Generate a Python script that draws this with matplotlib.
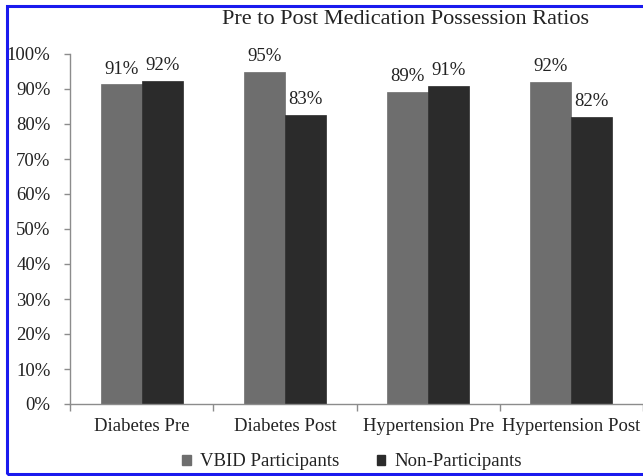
import numpy as np
import matplotlib
matplotlib.use('Agg')
import matplotlib.pyplot as plt
from matplotlib.patches import Rectangle, Patch

# data
categories = ['Diabetes Pre', 'Diabetes Post', 'Hypertension Pre', 'Hypertension Post']
vbid = [91.3, 94.9, 89.2, 92.0]            # VBID Participants (%)
non_part = [92.4, 82.6, 90.9, 81.9]        # Non-Participants (%)
y_ticks = [0, 10, 20, 30, 40, 50, 60, 70, 80, 90, 100]
series_names = ['VBID Participants', 'Non-Participants']

plt.rcParams['font.family'] = ['Liberation Serif', 'DejaVu Serif']
text_col = '#222222'
col_vbid = '#6e6e6e'
col_non = '#2b2b2b'
axis_col = '#8c8c8c'

fig = plt.figure(figsize=(6.43, 4.76), dpi=100)
ax = fig.add_axes([70 / 643, 72 / 476, 1 - 70 / 643, 350 / 476])

x = np.arange(len(categories))
w = 0.286
b1 = ax.bar(x - w / 2, vbid, w, color=col_vbid, edgecolor=col_vbid, linewidth=0.5)
b2 = ax.bar(x + w / 2, non_part, w, color=col_non, edgecolor=col_non, linewidth=0.5)

# value labels above each bar
for bars, vals in ((b1, vbid), (b2, non_part)):
    for rect, v in zip(bars, vals):
        ax.annotate('%d%%' % round(v), (rect.get_x() + rect.get_width() / 2, v),
                    xytext=(0, 5), textcoords='offset points',
                    ha='center', va='bottom', fontsize=13.5, color=text_col)

ax.set_xlim(-0.5, 3.5)
ax.set_ylim(0, 100)
ax.set_yticks(y_ticks)
ax.set_yticklabels(['%d%%' % t for t in y_ticks])
ax.tick_params(axis='y', length=4, width=1, color=axis_col, pad=10,
               labelsize=13.5, labelcolor=text_col)

# category labels centered, tick marks between categories
ax.set_xticks(x)
ax.set_xticklabels(categories)
ax.tick_params(axis='x', which='major', length=0, pad=10, labelsize=13.5, labelcolor=text_col)
ax.set_xticks(np.arange(-0.5, 4.0, 1.0), minor=True)
ax.tick_params(axis='x', which='minor', length=5, width=1, color=axis_col, direction='out')

for s in ('top', 'right'):
    ax.spines[s].set_visible(False)
for s in ('left', 'bottom'):
    ax.spines[s].set_color(axis_col)
    ax.spines[s].set_linewidth(1)

fig.text(406 / 643, 1 - 20 / 476, 'Pre to Post Medication Possession Ratios',
         ha='center', va='center', fontsize=16, color=text_col)

handles = [Patch(color=col_vbid), Patch(color=col_non)]
fig.legend(handles, series_names, loc='center', bbox_to_anchor=(352 / 643, 1 - 462 / 476),
           ncol=2, frameon=False, fontsize=13.5, handlelength=0.45, handleheight=0.45,
           handletextpad=0.5, columnspacing=2.0, labelcolor=text_col)

# blue frame around the figure
fig.patches.append(Rectangle((7 / 643, 2 / 476), 1.0, 1 - 8 / 476, transform=fig.transFigure,
                             fill=False, edgecolor='#1a1aee', linewidth=2.2))

fig.savefig('out.png', dpi=100)
